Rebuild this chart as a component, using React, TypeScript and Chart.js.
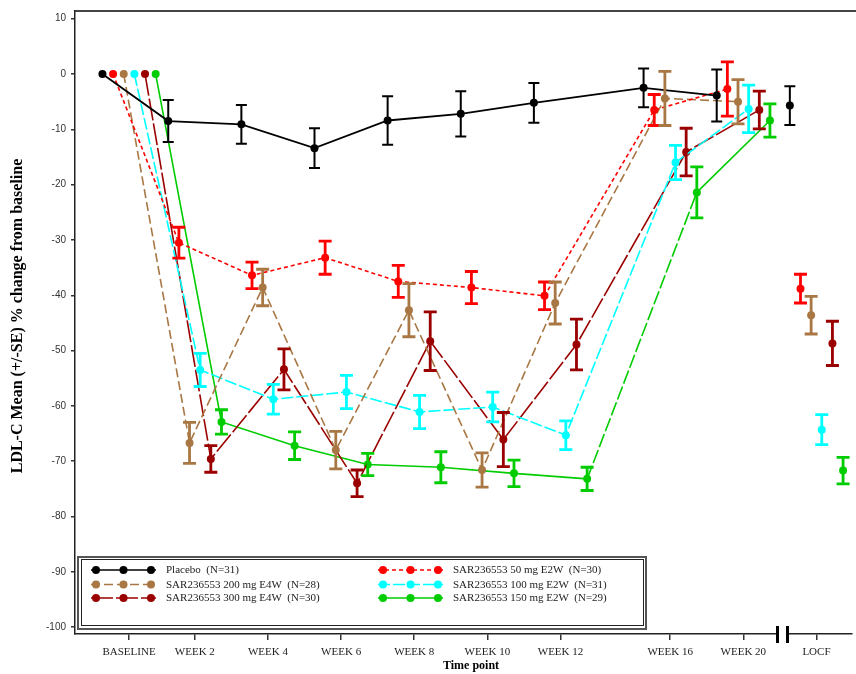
import React, { useEffect, useRef } from "react";
import { Chart, registerables } from "chart.js";

Chart.register(...registerables);

// ---- data ----
const timepointLabels = ["BASELINE", "WEEK 2", "WEEK 4", "WEEK 6", "WEEK 8", "WEEK 10", "WEEK 12", "WEEK 16", "WEEK 20", "LOCF"];
const timepointSlots = [0.1, 1, 2, 3, 4, 5, 6, 7.5, 8.5, 9.5];
const yTicks = [-100, -90, -80, -70, -60, -50, -40, -30, -20, -10, 0, 10];

const seriesNames = [
  "Placebo  (N=31)",
  "SAR236553 50 mg E2W  (N=30)",
  "SAR236553 200 mg E4W  (N=28)",
  "SAR236553 100 mg E2W  (N=31)",
  "SAR236553 300 mg E4W  (N=30)",
  "SAR236553 150 mg E2W  (N=29)",
];

const placeboMean = [0, -8.5, -9.1, -13.4, -8.4, -7.2, -5.2, -2.5, -3.9, -5.7];
const placeboSE = [0, 3.8, 3.5, 3.6, 4.4, 4.1, 3.6, 3.5, 4.7, 3.5];

const mg50Mean = [0, -30.5, -36.4, -33.2, -37.5, -38.6, -40.1, -6.5, -2.7, -38.8];
const mg50SE = [0, 2.8, 2.4, 3.0, 2.9, 2.9, 2.5, 2.8, 4.9, 2.6];

const mg200Mean = [0, -66.7, -38.6, -68.0, -42.7, -71.6, -41.4, -4.4, -5.0, -43.6];
const mg200SE = [0, 3.7, 3.3, 3.4, 4.8, 3.1, 3.8, 4.9, 4.0, 3.4];

const mg100Mean = [0, -53.5, -58.8, -57.5, -61.1, -60.2, -65.3, -16.0, -6.3, -64.3];
const mg100SE = [0, 3.0, 2.7, 3.0, 3.0, 2.7, 2.6, 3.1, 4.3, 2.7];

const mg300Mean = [0, -69.6, -53.4, -74.0, -48.3, -66.1, -48.9, -14.1, -6.5, -48.7];
const mg300SE = [0, 2.4, 3.7, 2.4, 5.3, 4.9, 4.6, 4.3, 3.4, 4.0];

const mg150Mean = [0, -62.9, -67.2, -70.6, -71.1, -72.2, -73.2, -21.4, -8.4, -71.7];
const mg150SE = [0, 2.2, 2.5, 2.0, 2.8, 2.4, 2.1, 4.6, 3.0, 2.4];

const allMeans = [placeboMean, mg50Mean, mg200Mean, mg100Mean, mg300Mean, mg150Mean];
const allSE = [placeboSE, mg50SE, mg200SE, mg100SE, mg300SE, mg150SE];

// ---- styles ----
const colors = ["#000000", "#ff0000", "#a87743", "#00ffff", "#9a0000", "#00cc00"];
const dashes: number[][] = [[], [4, 3], [9, 4], [12, 3], [22, 3], []];
const lineWidths = [1.8, 1.6, 1.6, 1.6, 1.6, 1.6];
const dodge = 10.7 / 73.5;

const W = 856;
const H = 674;

export default function App() {
  const ref = useRef<HTMLCanvasElement | null>(null);

  useEffect(() => {
    const canvas = ref.current;
    if (!canvas) return;

    const datasets = allMeans.map((means, i) => ({
      label: seriesNames[i],
      data: timepointSlots.map((s, t) => ({ x: s + (i - 2.5) * dodge, y: means[t] })),
      se: allSE[i],
      borderColor: colors[i],
      backgroundColor: colors[i],
      borderWidth: lineWidths[i],
      borderDash: dashes[i],
      pointRadius: 4,
      pointBorderWidth: 0,
      pointBackgroundColor: colors[i],
      pointHoverRadius: 4,
      tension: 0,
      segment: {
        borderColor: (ctx: any) =>
          ctx.p1DataIndex === timepointSlots.length - 1 ? "rgba(0,0,0,0)" : colors[i],
        borderDash: (ctx: any) =>
          i === 5 && ctx.p1DataIndex === 7 ? [14, 3] : undefined,
      },
    }));

    const errorBars = {
      id: "errorBars",
      afterDatasetsDraw(chart: any) {
        const { ctx, scales } = chart;
        const ys = scales.y;
        chart.data.datasets.forEach((ds: any, i: number) => {
          const meta = chart.getDatasetMeta(i);
          ctx.save();
          ctx.strokeStyle = colors[i];
          ctx.lineWidth = i === 0 ? 2 : 2.8;
          ctx.setLineDash([]);
          const half = i === 0 ? 5.5 : 6.5;
          meta.data.forEach((pt: any, t: number) => {
            const se = ds.se[t];
            if (!se) return;
            const m = ds.data[t].y;
            const x = pt.x;
            const yTop = ys.getPixelForValue(m + se);
            const yBot = ys.getPixelForValue(m - se);
            ctx.beginPath();
            ctx.moveTo(x, yTop);
            ctx.lineTo(x, yBot);
            ctx.moveTo(x - half, yTop);
            ctx.lineTo(x + half, yTop);
            ctx.moveTo(x - half, yBot);
            ctx.lineTo(x + half, yBot);
            ctx.stroke();
          });
          ctx.restore();
        });
      },
    };

    const decorations = {
      id: "decorations",
      afterDraw(chart: any) {
        const { ctx, chartArea } = chart;
        ctx.save();
        // top frame line
        ctx.strokeStyle = "#444";
        ctx.lineWidth = 2;
        ctx.beginPath();
        ctx.moveTo(chartArea.left, chartArea.top);
        ctx.lineTo(W, chartArea.top);
        ctx.stroke();

        // axis break
        const yb = chartArea.bottom;
        ctx.fillStyle = "#fff";
        ctx.fillRect(779, yb - 2, 7, 4);
        ctx.strokeStyle = "#000";
        ctx.lineWidth = 3;
        ctx.beginPath();
        ctx.moveTo(777.5, yb - 8);
        ctx.lineTo(777.5, yb + 9);
        ctx.moveTo(787.5, yb - 8);
        ctx.lineTo(787.5, yb + 9);
        ctx.stroke();

        // legend box
        ctx.fillStyle = "#fff";
        ctx.fillRect(78, 557, 568, 72);
        ctx.strokeStyle = "#555";
        ctx.lineWidth = 2;
        ctx.strokeRect(78, 557, 568, 72);
        ctx.strokeStyle = "#222";
        ctx.lineWidth = 1;
        ctx.strokeRect(81.5, 559.5, 562, 66);

        const rows = [570, 584.5, 598];
        const entries = [
          { s: 0, col: 0, row: 0 },
          { s: 2, col: 0, row: 1 },
          { s: 4, col: 0, row: 2 },
          { s: 1, col: 1, row: 0 },
          { s: 3, col: 1, row: 1 },
          { s: 5, col: 1, row: 2 },
        ];
        const cols = [
          { x0: 91, x1: 156, marks: [96, 123.5, 151], tx: 166 },
          { x0: 378, x1: 443, marks: [383, 410.5, 438], tx: 453 },
        ];
        ctx.font = "11px 'Liberation Serif'";
        ctx.textBaseline = "middle";
        ctx.textAlign = "left";
        entries.forEach((e) => {
          const c = cols[e.col];
          const y = rows[e.row];
          ctx.strokeStyle = colors[e.s];
          ctx.lineWidth = 1.6;
          ctx.setLineDash(dashes[e.s]);
          ctx.beginPath();
          ctx.moveTo(c.x0, y);
          ctx.lineTo(c.x1, y);
          ctx.stroke();
          ctx.setLineDash([]);
          ctx.fillStyle = colors[e.s];
          c.marks.forEach((mx) => {
            ctx.beginPath();
            ctx.arc(mx, y, 4, 0, Math.PI * 2);
            ctx.fill();
          });
          ctx.fillStyle = "#222";
          ctx.fillText(seriesNames[e.s], c.tx, y + 0.5);
        });

        // axis titles
        ctx.fillStyle = "#000";
        ctx.textAlign = "center";
        ctx.textBaseline = "middle";
        ctx.font = "bold 12px 'Liberation Serif'";
        ctx.fillText("Time point", 471, 666);
        ctx.save();
        ctx.translate(18, 316);
        ctx.rotate(-Math.PI / 2);
        ctx.font = "bold 16px 'Liberation Serif'";
        ctx.fillText("LDL-C Mean (+/-SE) % change from baseline", 0, 0);
        ctx.restore();
        ctx.restore();
      },
    };

    const chart = new Chart(canvas, {
      type: "line",
      data: { datasets: datasets as any },
      options: {
        animation: false,
        responsive: false,
        devicePixelRatio: 1,
        layout: { padding: { top: 6, left: 0, right: 0, bottom: 0 } },
        plugins: {
          legend: { display: false },
          tooltip: { enabled: false },
          title: { display: false },
        },
        scales: {
          x: {
            type: "linear",
            min: -0.639,
            max: 9.986,
            afterBuildTicks: (scale: any) => {
              scale.ticks = timepointSlots.map((v) => ({ value: v }));
            },
            afterFit: (scale: any) => {
              scale.height = 40;
            },
            ticks: {
              autoSkip: false,
              maxRotation: 0,
              padding: 6,
              color: "#222",
              font: { family: "'Liberation Serif'", size: 11 },
              callback: (_v: any, idx: number) => timepointLabels[idx],
            },
            grid: { drawOnChartArea: false, drawTicks: true, tickLength: 6, color: "#333", lineWidth: 1.5 },
            border: { display: true, color: "#222", width: 1.5 },
          },
          y: {
            type: "linear",
            min: -101.25,
            max: 11.4,
            afterBuildTicks: (scale: any) => {
              scale.ticks = yTicks.map((v) => ({ value: v }));
            },
            afterFit: (scale: any) => {
              scale.width = 75;
            },
            ticks: {
              padding: 5,
              color: "#333",
              font: { family: "'Liberation Sans'", size: 10 },
              callback: (v: any) => String(v),
            },
            grid: { drawOnChartArea: false, drawTicks: true, tickLength: 4, color: "#333", lineWidth: 1.5 },
            border: { display: true, color: "#222", width: 1.5 },
          },
        },
      },
      plugins: [errorBars, decorations],
    });

    return () => chart.destroy();
  }, []);

  return (
    <div style={{ position: "absolute", left: 0, top: 0, width: W, height: H, background: "#fff" }}>
      <canvas ref={ref} width={W} height={H} style={{ display: "block", width: W, height: H }} />
    </div>
  );
}
